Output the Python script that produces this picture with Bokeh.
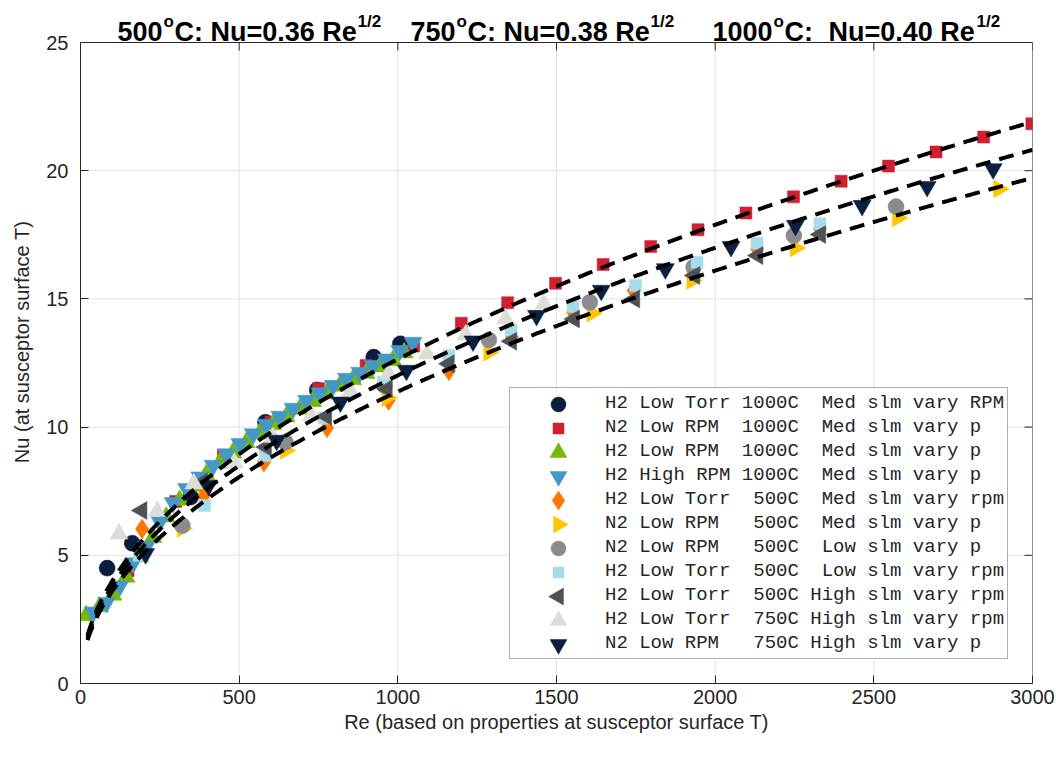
import numpy as np
from bokeh.plotting import figure
from bokeh.models import Range1d, FixedTicker, Legend, LegendItem
from bokeh.core.properties import value
from bokeh.embed import file_html
from bokeh.resources import INLINE

# ---------------- data ----------------
h2_lowtorr_1000_re = [84, 163, 347, 583, 746, 924, 1008]
h2_lowtorr_1000_nu = [4.50, 5.47, 7.27, 10.19, 11.45, 12.73, 13.25]

n2_lowrpm_1000_re = [150, 300, 450, 600, 750, 900, 1050, 1200, 1346, 1497, 1647, 1797, 1946,
                     2097, 2247, 2397, 2546, 2696, 2846, 2998]
n2_lowrpm_1000_nu = [4.40, 7.10, 8.90, 10.20, 11.50, 12.40, 13.16, 14.05, 14.85, 15.61, 16.34,
                     17.04, 17.70, 18.35, 18.98, 19.59, 20.18, 20.73, 21.31, 21.83]

h2_lowrpm_1000_re = [18, 60, 102, 144, 186, 228, 270, 312, 354, 396, 438, 480, 522, 564, 606,
                     648, 690, 732, 774, 816, 858, 900, 942, 984, 1020]
h2_lowrpm_1000_nu = [2.65, 3.00, 3.45, 4.15, 4.95, 5.70, 6.50, 7.15, 7.70, 8.15, 8.60, 9.00,
                     9.40, 9.75, 10.10, 10.40, 10.70, 11.00, 11.30, 11.60, 11.85, 12.10, 12.35,
                     12.60, 12.90]

h2_highrpm_1000_re = [40, 82, 124, 166, 208, 250, 292, 334, 376, 418, 460, 502, 544, 586, 628,
                      670, 712, 754, 796, 838, 880, 922, 964, 1006, 1048]
h2_highrpm_1000_nu = [2.78, 3.15, 3.80, 4.70, 5.35, 6.30, 7.05, 7.60, 8.05, 8.50, 8.95, 9.35,
                      9.73, 10.10, 10.42, 10.73, 11.04, 11.33, 11.62, 11.90, 12.13, 12.40, 12.65,
                      12.98, 13.30]

h2_lowtorr_500_med_re = [194, 389, 578, 777, 971, 1161, 1360, 1552, 1743, 1938, 2132, 2330]
h2_lowtorr_500_med_nu = [6.03, 7.33, 8.63, 9.97, 11.04, 12.20, 13.50, 14.48, 15.33, 16.25,
                         16.95, 17.73]

n2_lowrpm_500_med_re = [321, 646, 966, 1287, 1612, 1927, 2253, 2575, 2894]
n2_lowrpm_500_med_nu = [6.05, 9.09, 11.14, 12.92, 14.44, 15.72, 16.99, 18.16, 19.29]

n2_lowrpm_500_low_re = [321, 646, 958, 1287, 1605, 1932, 2248, 2570]
n2_lowrpm_500_low_nu = [6.16, 9.41, 11.62, 13.40, 14.87, 16.24, 17.47, 18.60]

h2_lowtorr_500_low_re = [185, 391, 583, 768, 954, 1161, 1357, 1552, 1749, 1943, 2132, 2330]
h2_lowtorr_500_low_nu = [5.00, 6.94, 8.89, 10.35, 11.75, 12.79, 13.79, 14.70, 15.52, 16.43,
                         17.17, 17.93]

h2_lowtorr_500_high_re = [193, 384, 585, 775, 966, 1161, 1358, 1556, 1746, 1935, 2134, 2332]
h2_lowtorr_500_high_nu = [6.75, 7.85, 9.22, 10.42, 11.49, 12.47, 13.35, 14.22, 15.00, 15.91,
                          16.69, 17.51]

h2_lowtorr_750_high_re = [121, 242, 357, 485, 607, 728, 851, 971, 1092, 1214, 1339, 1460]
h2_lowtorr_750_high_nu = [5.84, 6.72, 7.79, 8.60, 9.60, 10.45, 11.40, 12.08, 12.86, 13.60,
                          14.22, 14.81]

n2_lowrpm_750_high_re = [205, 404, 618, 819, 1027, 1237, 1437, 1641, 1843, 2050, 2253, 2463,
                         2668, 2876]
n2_lowrpm_750_high_nu = [5.06, 7.72, 9.48, 10.97, 12.21, 13.35, 14.35, 15.33, 16.17, 17.04,
                         17.86, 18.64, 19.38, 20.07]

fit_coeffs = [0.36, 0.38, 0.40]
fit_re_start, fit_re_end = 22, 3000

legend_labels = [
    "H2 Low Torr 1000C  Med slm vary RPM",
    "N2 Low RPM  1000C  Med slm vary p",
    "H2 Low RPM  1000C  Med slm vary p",
    "H2 High RPM 1000C  Med slm vary p",
    "H2 Low Torr  500C  Med slm vary rpm",
    "N2 Low RPM   500C  Med slm vary p",
    "N2 Low RPM   500C  Low slm vary p",
    "H2 Low Torr  500C  Low slm vary rpm",
    "H2 Low Torr  500C High slm vary rpm",
    "H2 Low Torr  750C High slm vary rpm",
    "N2 Low RPM   750C High slm vary p",
]

x_ticks = [0, 500, 1000, 1500, 2000, 2500, 3000]
y_ticks = [0, 5, 10, 15, 20, 25]
XMAX, YMAX = 3000.0, 25.0

# ---------------- geometry (pixels of the page) ----------------
W, H = 1056, 757
L, R, B = 80, 24, 74
PLOT_TOP = 42                 # pixel row of Nu = 25
FRAME_BOT = H - B             # pixel row of Nu = 0
YTOP = YMAX * FRAME_BOT / (FRAME_BOT - PLOT_TOP)   # frame reaches page top (title area)


def px2re(px):
    return (px - L) * XMAX / (W - L - R)


def py2nu(py):
    return (FRAME_BOT - py) * YMAX / (FRAME_BOT - PLOT_TOP)


TXT = "#262626"

p = figure(width=W, height=H, output_backend="svg", toolbar_location=None,
           x_range=Range1d(0, XMAX), y_range=Range1d(0, YTOP),
           min_border_left=L, min_border_right=R, min_border_top=0, min_border_bottom=B)
p.background_fill_color = "white"
p.border_fill_color = "white"
p.outline_line_color = None
p.grid.visible = False

for ax in (p.xaxis[0], p.yaxis[0]):
    ax.axis_line_color = TXT
    ax.major_tick_line_color = TXT
    ax.major_tick_in = 8
    ax.major_tick_out = 0
    ax.minor_tick_line_color = None
    ax.major_label_text_font = "Liberation Sans"
    ax.major_label_text_font_size = "20px"
    ax.major_label_text_color = TXT
    ax.axis_label_text_font = "Liberation Sans"
    ax.axis_label_text_font_size = "20px"
    ax.axis_label_text_font_style = "normal"
    ax.axis_label_text_color = TXT

p.xaxis.ticker = FixedTicker(ticks=x_ticks)
p.yaxis.ticker = FixedTicker(ticks=y_ticks)
p.yaxis.bounds = (0, YMAX)
p.xaxis.axis_label = "Re (based on properties at susceptor surface T)"
p.yaxis.axis_label = "Nu (at susceptor surface T)"
p.xaxis.major_label_standoff = 6
p.yaxis.major_label_standoff = 12
p.xaxis.axis_label_standoff = 4
p.yaxis.axis_label_standoff = 10

# grid lines (only inside the axes box)
p.segment(x0=x_ticks[1:-1], y0=[0] * 5, x1=x_ticks[1:-1], y1=[YMAX] * 5,
          line_color="#e3e3e3", line_width=1)
p.segment(x0=[0] * 4, y0=y_ticks[1:-1], x1=[XMAX] * 4, y1=y_ticks[1:-1],
          line_color="#e3e3e3", line_width=1)

# ---------------- scatter series ----------------
series = [
    (h2_lowtorr_1000_re, h2_lowtorr_1000_nu, "circle", "#0b1d3d", 16, 0),
    (n2_lowrpm_1000_re, n2_lowrpm_1000_nu, "square", "#d01f2e", 12, 0),
    (h2_lowrpm_1000_re, h2_lowrpm_1000_nu, "triangle", "#77b800", 18, 0),
    (h2_highrpm_1000_re, h2_highrpm_1000_nu, "inverted_triangle", "#4598c6", 18, 0),
    (h2_lowtorr_500_med_re, h2_lowtorr_500_med_nu, "diamond", "#ff7700", 20, 0),
    (n2_lowrpm_500_med_re, n2_lowrpm_500_med_nu, "triangle", "#ffc600", 18, -np.pi / 2),
    (n2_lowrpm_500_low_re, n2_lowrpm_500_low_nu, "circle", "#8b8b8d", 16, 0),
    (h2_lowtorr_500_low_re, h2_lowtorr_500_low_nu, "square", "#a6dcea", 12, 0),
    (h2_lowtorr_500_high_re, h2_lowtorr_500_high_nu, "triangle", "#4f5156", 18, np.pi / 2),
    (h2_lowtorr_750_high_re, h2_lowtorr_750_high_nu, "triangle", "#dcdcd8", 18, 0),
    (n2_lowrpm_750_high_re, n2_lowrpm_750_high_nu, "inverted_triangle", "#0b1f3e", 18, 0),
]

for xs, ys, mk, col, sz, ang in series:
    p.scatter(xs, ys, marker=mk, size=sz, fill_color=col, line_color=col, line_width=0.5,
              angle=ang)

# ---------------- fit lines ----------------
re_fit = np.linspace(fit_re_start, fit_re_end, 400)
for c in fit_coeffs:
    p.line(re_fit, c * np.sqrt(re_fit), line_color="black", line_width=4, line_dash="15 9")

# axes box: top and right edges with inward ticks
p.segment(x0=[0, XMAX], y0=[YMAX, 0], x1=[XMAX, XMAX], y1=[YMAX, YMAX],
          line_color=TXT, line_width=1)
tick_len_y = 8 * YMAX / (FRAME_BOT - PLOT_TOP)
tick_len_x = 8 * XMAX / (W - L - R)
p.segment(x0=x_ticks, y0=[YMAX] * len(x_ticks), x1=x_ticks,
          y1=[YMAX - tick_len_y] * len(x_ticks), line_color=TXT, line_width=1)
p.segment(x0=[XMAX] * len(y_ticks), y0=y_ticks, x1=[XMAX - tick_len_x] * len(y_ticks),
          y1=y_ticks, line_color=TXT, line_width=1)

# ---------------- legend: white box + full-size markers, Bokeh legend for the text ----------------
LG_L, LG_B, LG_PAD, LG_ROW, LG_GW = 509, 659, 3, 24, 92
n_items = len(legend_labels)
box_top = LG_B - (n_items * LG_ROW + 2 * LG_PAD)
p.quad(left=[px2re(LG_L)], right=[px2re(1006)], top=[py2nu(box_top)], bottom=[py2nu(LG_B)],
       fill_color="white", line_color=None)
row_y = [py2nu(box_top + LG_PAD + LG_ROW / 2 + i * LG_ROW) for i in range(n_items)]
mark_x = px2re(LG_L + LG_PAD + LG_GW / 2)
for (xs, ys, mk, col, sz, ang), yy in zip(series, row_y):
    p.scatter([mark_x], [yy], marker=mk, size=sz - 1, fill_color=col, line_color=col,
              line_width=0.5, angle=ang)

items = []
for lab in legend_labels:
    dummy = p.scatter([], [], marker="circle", size=1, fill_alpha=0, line_alpha=0)
    items.append(LegendItem(label=lab, renderers=[dummy]))
lg = Legend(items=items, location=(LG_L - L, FRAME_BOT - LG_B))
lg.label_text_font = "Liberation Mono"
lg.label_text_font_size = "19px"
lg.label_text_color = TXT
lg.glyph_width = LG_GW
lg.glyph_height = LG_ROW
lg.label_height = LG_ROW
lg.label_standoff = 0
lg.spacing = 0
lg.padding = LG_PAD
lg.margin = 0
lg.border_line_color = "#5e5e5e"
lg.border_line_width = 1
lg.background_fill_alpha = 0.0
p.add_layout(lg, "center")

# ---------------- title with superscripts (above the axes box) ----------------
big = [("500", 117), ("C: Nu=0.36 Re", 174),
       ("750", 410), ("C: Nu=0.38 Re", 467),
       ("1000", 712), ("C:", 784), ("Nu=0.40 Re", 828)]
sup = [("o", 163), ("1/2", 357), ("o", 456), ("1/2", 650), ("o", 773), ("1/2", 976)]
p.text(x=[px2re(b[1]) for b in big], y=[py2nu(31)] * len(big), text=[b[0] for b in big],
       text_font=value("Liberation Sans"), text_font_style="bold",
       text_font_size=value("27px"), text_color="black",
       text_baseline="alphabetic", text_align="left")
p.text(x=[px2re(s[1]) for s in sup], y=[py2nu(21)] * len(sup), text=[s[0] for s in sup],
       text_font=value("Liberation Sans"), text_font_style="bold",
       text_font_size=value("17px"), text_color="black",
       text_baseline="alphabetic", text_align="left")

open("out.html", "w").write(file_html(p, INLINE))
